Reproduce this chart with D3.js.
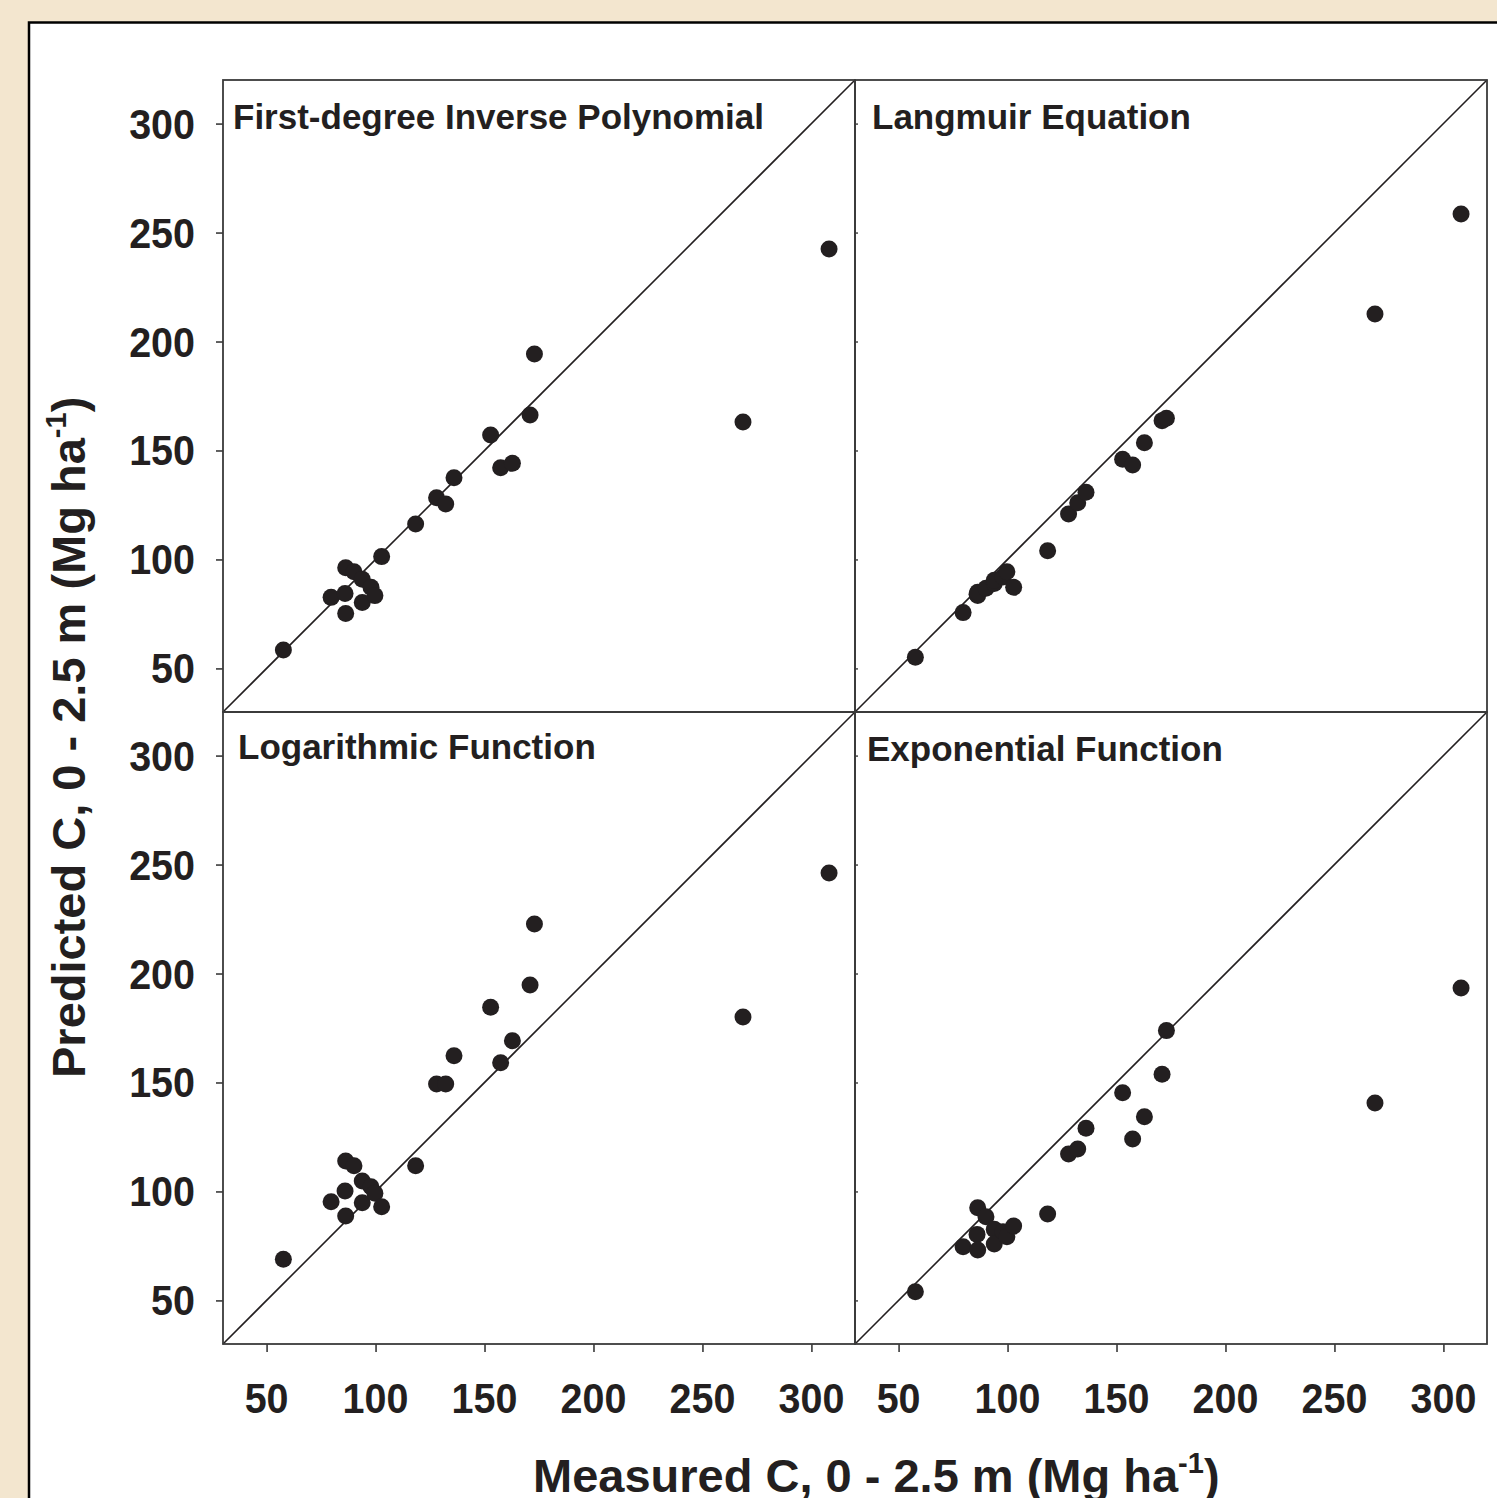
<!DOCTYPE html>
<html>
<head>
<meta charset="utf-8">
<script src="https://cdn.jsdelivr.net/npm/d3@7"></script>
<style>
  html, body { margin: 0; padding: 0; background: #f3e6cf; }
  svg { display: block; }
  text { font-family: Arial, "Liberation Sans", sans-serif; font-weight: bold; fill: #231f20; }
</style>
</head>
<body>
<svg id="chart" width="1497" height="1498"></svg>
<script>
// Measured soil carbon stock, 0 - 2.5 m (Mg ha-1), one entry per site
const measured = [57.7, 79.6, 86.0, 86.3, 86.3, 90.1, 93.9, 93.9, 97.9, 99.7, 102.8,
                  118.4, 128.0, 132.2, 136.0, 152.8, 157.4, 162.8, 170.9, 172.9, 268.6, 308.1];

// Predicted stocks from each depth-distribution model, same site order
const inversePolynomial = [58.4, 82.6, 84.4, 96.2, 75.2, 94.4, 90.9, 80.2, 87.2, 83.4, 101.3,
                           116.3, 128.3, 125.4, 137.5, 157.1, 142.1, 144.1, 166.3, 194.3, 163.1, 242.4];
const langmuir = [55.1, 75.6, 84.0, 83.5, 85.0, 86.8, 89.0, 90.5, 92.0, 94.4, 87.2,
                  104.0, 120.9, 126.0, 130.8, 146.0, 143.3, 153.6, 163.7, 164.8, 212.6, 258.5];
const logarithmic = [68.9, 95.3, 100.2, 114.0, 88.7, 111.8, 104.8, 94.8, 102.2, 99.2, 93.0,
                     111.8, 149.3, 149.3, 162.3, 184.5, 159.1, 169.2, 194.7, 222.7, 180.0, 246.1];
const exponential = [54.0, 74.6, 80.3, 92.5, 73.1, 88.4, 82.6, 75.9, 81.5, 79.2, 84.1,
                     89.7, 117.2, 119.5, 129.0, 145.3, 124.1, 134.3, 153.8, 173.8, 140.6, 193.4];

const panelTitles = ["First-degree Inverse Polynomial", "Langmuir Equation",
                     "Logarithmic Function", "Exponential Function"];
const tickValues = [50, 100, 150, 200, 250, 300];
const axisDomain = [30, 320];
const xAxisTitle = "Measured C, 0 - 2.5 m (Mg ha";
const yAxisTitle = "Predicted C, 0 - 2.5 m (Mg ha";
const unitExponent = "-1";

const panels = [
  { title: panelTitles[0], values: inversePolynomial, col: 0, row: 0, tx: 233, ty: 129 },
  { title: panelTitles[1], values: langmuir,          col: 1, row: 0, tx: 872, ty: 129 },
  { title: panelTitles[2], values: logarithmic,       col: 0, row: 1, tx: 238, ty: 759 },
  { title: panelTitles[3], values: exponential,       col: 1, row: 1, tx: 867, ty: 761 }
];

const ink = "#231f20";
const frameColor = "#3a3a3a";
const gridLeft = 223, gridTop = 80, panelSize = 632;

const svg = d3.select("#chart");

// white page with a black border, running off the right and bottom edges
svg.append("rect")
  .attr("x", 29).attr("y", 22.5)
  .attr("width", 1600).attr("height", 1600)
  .attr("fill", "#fff").attr("stroke", "#000").attr("stroke-width", 2.5);

panels.forEach(p => {
  const x0 = gridLeft + p.col * panelSize;
  const y0 = gridTop + p.row * panelSize;
  const x = d3.scaleLinear().domain(axisDomain).range([x0, x0 + panelSize]);
  const y = d3.scaleLinear().domain(axisDomain).range([y0 + panelSize, y0]);

  const g = svg.append("g");

  // 1:1 line
  g.append("line")
    .attr("x1", x(axisDomain[0])).attr("y1", y(axisDomain[0]))
    .attr("x2", x(axisDomain[1])).attr("y2", y(axisDomain[1]))
    .attr("stroke", ink).attr("stroke-width", 1.6);

  // observations
  g.selectAll("circle")
    .data(measured.map((m, i) => [m, p.values[i]]))
    .join("circle")
    .attr("cx", d => x(d[0]))
    .attr("cy", d => y(d[1]))
    .attr("r", 8.5)
    .attr("fill", ink);

  // left axis: labelled on the left column, short inner ticks on the right column
  if (p.col === 0) {
    const ya = d3.axisLeft(y).tickValues(tickValues).tickSize(7).tickFormat("");
    const ag = g.append("g").attr("transform", `translate(${x0},0)`).call(ya);
    ag.select(".domain").remove();
    ag.selectAll(".tick line").attr("stroke", frameColor).attr("stroke-width", 1.6);
    g.selectAll(".ytl")
      .data(tickValues)
      .join("text")
      .attr("class", "ytl")
      .attr("text-anchor", "end")
      .attr("font-size", 42)
      .attr("transform", d => `translate(195,${y(d) + 15}) scale(0.94,1)`)
      .text(d => d);
  } else {
    const ya = d3.axisRight(y).tickValues(tickValues).tickSize(3).tickFormat("");
    const ag = g.append("g").attr("transform", `translate(${x0},0)`).call(ya);
    ag.select(".domain").remove();
    ag.selectAll(".tick line").attr("stroke", frameColor).attr("stroke-width", 1.4);
  }

  // bottom axis on the lower row
  if (p.row === 1) {
    const xa = d3.axisBottom(x).tickValues(tickValues).tickSize(8).tickFormat("");
    const ag = g.append("g").attr("transform", `translate(0,${y0 + panelSize})`).call(xa);
    ag.select(".domain").remove();
    ag.selectAll(".tick line").attr("stroke", frameColor).attr("stroke-width", 1.6);
    g.selectAll(".xtl")
      .data(tickValues)
      .join("text")
      .attr("class", "xtl")
      .attr("text-anchor", "middle")
      .attr("font-size", 42)
      .attr("transform", d => `translate(${x(d)},1413) scale(0.94,1)`)
      .text(d => d);
  }

  // panel frame
  g.append("rect")
    .attr("x", x0).attr("y", y0)
    .attr("width", panelSize).attr("height", panelSize)
    .attr("fill", "none").attr("stroke", frameColor).attr("stroke-width", 1.8);

  // model name
  g.append("text")
    .attr("x", p.tx).attr("y", p.ty)
    .attr("font-size", 35)
    .text(p.title);
});

// axis titles with superscript exponent
const xt = svg.append("text")
  .attr("x", 533).attr("y", 1492)
  .attr("font-size", 47);
xt.append("tspan").text(xAxisTitle);
xt.append("tspan").attr("font-size", 29).attr("dy", -19).text(unitExponent);
xt.append("tspan").attr("dy", 19).text(")");

const yt = svg.append("text")
  .attr("transform", "translate(85,1078) rotate(-90)")
  .attr("font-size", 47);
yt.append("tspan").text(yAxisTitle);
yt.append("tspan").attr("font-size", 29).attr("dy", -19).text(unitExponent);
yt.append("tspan").attr("dy", 19).text(")");
</script>
</body>
</html>
